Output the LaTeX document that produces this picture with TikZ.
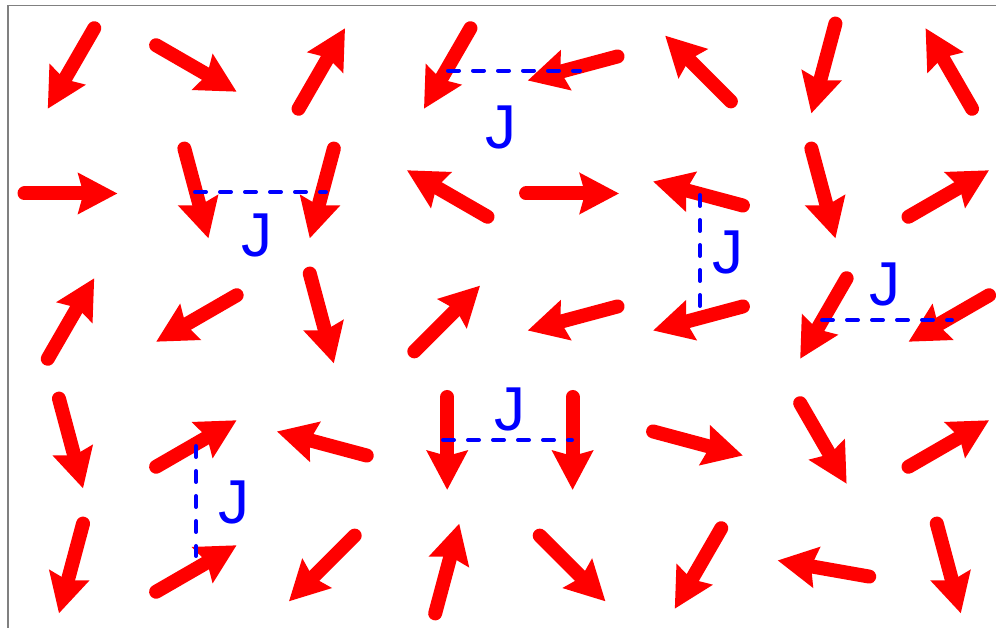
\documentclass[tikz,border=0pt]{standalone}
\usepackage{fontspec}
\newfontfamily\labelfont{Liberation Sans}
\usetikzlibrary{arrows.meta,calc}

\tikzset{
	spin/.style={draw=red, line width=14pt, line cap=round, -{Stealth[length=39pt, width=40pt, inset=5pt]}},
	bond/.style={draw=blue, line width=4pt, line cap=round, dash pattern=on 11pt off 14pt},
	coupling/.style={text=blue, inner sep=0pt, font=\labelfont\fontsize{62}{70}\selectfont},
}

\begin{document}
\begin{tikzpicture}[x=1pt, y=1pt]
	 \useasboundingbox (0,0) rectangle (996,628);
	 \draw[gray, line width=1.5pt] (8,0) -- (8,622.5) -- (996,622.5);
	 %% spins, one row of angles per lattice row
	 \foreach \angles [count=\row] in {
	 	{240,330,60,240,195,135,255,120},
	 	{0,285,255,150,0,165,285,30},
	 	{60,210,285,45,195,195,240,210},
	 	{285,30,165,270,270,345,300,30},
	 	{255,30,225,75,315,240,170,285}}
	 {
	 	\foreach \a [count=\col] in \angles {
	 		\coordinate (site-\row-\col) at ({71+125.4*(\col-1)},{559.5-125*(\row-1)});
	 		\draw[spin] ($(site-\row-\col)+(\a+180:46.5)$) -- ($(site-\row-\col)+(\a:46.5)$);
	 	}
	 }
	 %% bond ends
	 \coordinate (b1a) at (448,557.3);  \coordinate (b1b) at (580,557.3);
	 \coordinate (b2a) at (195,436);    \coordinate (b2b) at (326,436);
	 \coordinate (b3a) at (700,433);    \coordinate (b3b) at (700,322);
	 \coordinate (b4a) at (822,308);    \coordinate (b4b) at (952,308);
	 \coordinate (b5a) at (443,188);    \coordinate (b5b) at (572,188);
	 \coordinate (b6a) at (196,182);    \coordinate (b6b) at (196,72);
	 \foreach \b in {1,...,6}
	 	\draw[bond] (b\b a) -- (b\b b);
	 %% couplings
	 \node[coupling] (J1) at (501,500.5) {J};
	 \node[coupling] (J2) at (257,392.5) {J};
	 \node[coupling] (J3) at (727.5,376) {J};
	 \node[coupling] (J4) at (885,343.5) {J};
	 \node[coupling] (J5) at (509.5,218.5) {J};
	 \node[coupling] (J6) at (234,126) {J};
\end{tikzpicture}
\end{document}
